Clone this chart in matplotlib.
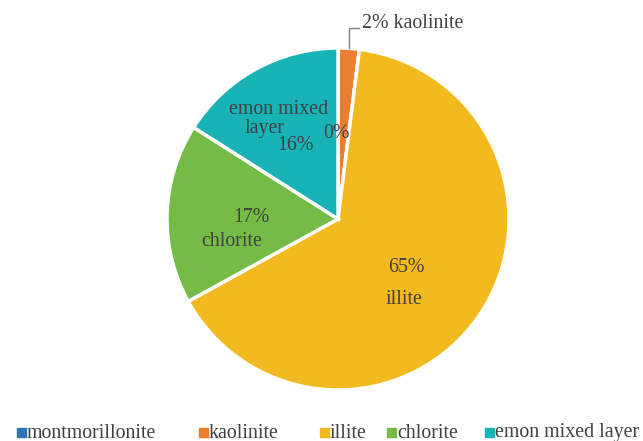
import numpy as np
from matplotlib import pyplot as plt
from matplotlib.patches import Rectangle

plt.rcParams['font.family'] = ['Liberation Serif', 'DejaVu Serif']

minerals = ['montmorillonite', 'kaolinite', 'illite', 'chlorite', 'emon mixed layer']
shares = [0, 2, 65, 17, 16]
colors = ['#2E75B6', '#ED7D31', '#F2BA1F', '#74BC46', '#17B3B7']
text_color = '#404040'

W, H = 643, 441
fig = plt.figure(figsize=(W / 100, H / 100), dpi=100)
ax = fig.add_axes([0, 0, 1, 1])

cx, cy, r = 338, H - 219, 171
ax.pie(shares, colors=colors, startangle=90, counterclock=False,
       center=(cx, cy), radius=r, frame=True,
       wedgeprops=dict(edgecolor='white', linewidth=2.5))
ax.set_xlim(0, W)
ax.set_ylim(0, H)
ax.axis('off')

fs = 14.3
# kaolinite label with leader line
mid = np.deg2rad(90 - 360 * shares[1] / 2 / sum(shares))
x0, y0 = cx + r * np.cos(mid), cy + r * np.sin(mid)
ax.plot([x0, x0, x0 + 10], [y0, H - 28, H - 28], color='#7f7f7f', lw=1)
ax.text(x0 + 13, H - 24, '{}% {}'.format(shares[1], minerals[1]),
        fontsize=fs, color=text_color, va='center', ha='left')

ax.text(336, H - 133, '{}%'.format(shares[0]), fontsize=fs, color=text_color,
        ha='center', va='center')
ax.text(279, H - 109, 'emon mixed', fontsize=fs, color=text_color, ha='center', va='center')
ax.text(265, H - 128, 'layer', fontsize=fs, color=text_color, ha='center', va='center')
ax.text(295, H - 145, '{}%'.format(shares[4]), fontsize=fs, color=text_color,
        ha='center', va='center')
ax.text(251, H - 217, '{}%'.format(shares[3]), fontsize=fs, color=text_color,
        ha='center', va='center')
ax.text(232, H - 242, minerals[3], fontsize=fs, color=text_color, ha='center', va='center')
ax.text(406, H - 268, '{}%'.format(shares[2]), fontsize=fs, color=text_color,
        ha='center', va='center')
ax.text(404, H - 300, minerals[2], fontsize=fs, color=text_color, ha='center', va='center')

# legend, placed by hand
leg_x = [17, 199, 320, 387, 485]
for name, c, lx in zip(minerals, colors, leg_x):
    ax.add_patch(Rectangle((lx, H - 437), 9, 9, color=c))
    ax.text(lx + 10, H - 433, name, fontsize=fs, color=text_color,
            ha='left', va='center')

fig.savefig('out.png', dpi=100)
